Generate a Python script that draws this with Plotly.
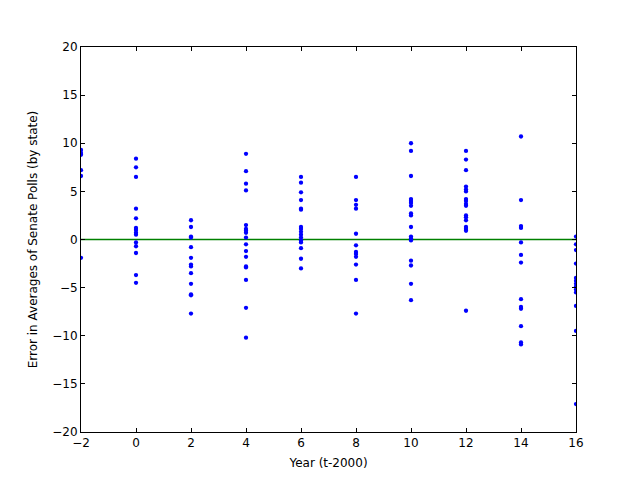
import plotly.graph_objects as go

years = [-2, 0, 2, 4, 6, 8, 10, 12, 14, 16]
errors = {
    -2: [9.3, 9.0, 8.8, 7.2, 6.6, -1.9],
    0: [8.4, 7.5, 6.5, 3.2, 2.2, 1.2, 1.0, 0.7, 0.5, -0.3, -0.7, -1.4, -3.7, -4.5],
    2: [2.0, 1.3, 0.3, 0.2, -0.8, -1.9, -2.6, -2.8, -3.5, -4.6, -5.7, -5.8, -7.7],
    4: [8.9, 7.1, 5.8, 5.1, 1.5, 1.1, 0.9, 0.7, 0.2, -0.5, -1.2, -1.8, -2.8, -2.9, -4.2, -7.1, -10.2],
    6: [6.5, 5.9, 4.9, 4.1, 3.2, 3.1, 1.3, 1.1, 0.8, 0.5, 0.2, -0.1, -0.3, -0.9, -2.0, -3.0],
    8: [6.5, 4.1, 3.6, 3.2, 0.6, -0.6, -1.3, -1.5, -1.8, -2.6, -4.2, -7.7],
    10: [10.0, 9.2, 6.6, 4.2, 4.0, 3.8, 3.5, 2.7, 2.5, 1.3, 0.3, 0.1, -0.1, -2.2, -2.7, -4.6, -6.3],
    12: [9.2, 8.3, 7.2, 5.5, 5.2, 5.0, 4.2, 4.0, 3.7, 3.5, 2.5, 2.3, 2.0, 1.3, 1.1, 0.9, -7.4],
    14: [10.7, 4.1, 1.4, 1.2, -0.3, -1.6, -2.4, -6.2, -7.0, -7.2, -9.0, -10.7, -10.9],
    16: [0.3, -0.5, -1.1, -2.5, -4.0, -4.3, -4.6, -4.9, -5.2, -5.5, -6.9, -9.5, -17.1],
}
x_ticks = [-2, 0, 2, 4, 6, 8, 10, 12, 14, 16]
y_ticks = [-20, -15, -10, -5, 0, 5, 10, 15, 20]
zero_level = 0


def lab(t):
    return str(t).replace("-", "\u2212")


xs, ys = [], []
for yr in years:
    for v in errors[yr]:
        xs.append(yr)
        ys.append(v)

font = dict(family="DejaVu Sans", size=12, color="black")

fig = go.Figure()
fig.add_trace(go.Scatter(x=[years[0], years[-1]], y=[zero_level, zero_level], mode="lines",
                         line=dict(color="#008000", width=1.3), showlegend=False,
                         hoverinfo="skip"))
fig.add_trace(go.Scatter(x=xs, y=ys, mode="markers",
                         marker=dict(color="#0000ff", size=4.3, line=dict(width=0)),
                         showlegend=False))

axis_common = dict(showline=True, linecolor="black", linewidth=1, mirror="ticks",
                   ticks="inside", ticklen=4, tickcolor="black", showgrid=False,
                   zeroline=False, tickfont=font)
fig.update_xaxes(range=[-2, 16], tickvals=x_ticks, ticktext=[lab(t) for t in x_ticks],
                 title=dict(text="Year (t-2000)", font=font, standoff=9),
                 **axis_common)
fig.update_yaxes(range=[-20, 20], tickvals=y_ticks, ticktext=[lab(t) for t in y_ticks],
                 title=dict(text="Error in Averages of Senate Polls (by state)", font=font, standoff=12),
                 **axis_common)
fig.update_layout(width=632, height=472, margin=dict(l=73, r=64, t=39, b=48),
                  plot_bgcolor="white", paper_bgcolor="white")
fig.write_html("out.html")
